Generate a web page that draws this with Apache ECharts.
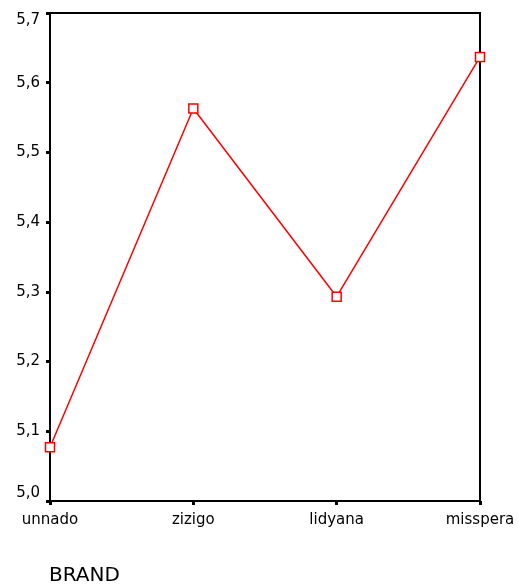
<!DOCTYPE html>
<html>
<head>
<meta charset="utf-8">
<script src="https://cdn.jsdelivr.net/npm/echarts@6/dist/echarts.min.js"></script>
<style>html,body{margin:0;padding:0;background:#fff;}#c{width:518px;height:586px;}</style>
</head>
<body>
<div id="c"></div>
<script>
const categories = ['unnado', 'zizigo', 'lidyana', 'misspera'];
const meanValues = [5.077, 5.563, 5.293, 5.637];
const axisTitle = 'BRAND';

const chart = echarts.init(document.getElementById('c'), null, {renderer: 'canvas'});
chart.setOption({
  animation: false,
  backgroundColor: '#fff',
  title: {
    text: axisTitle, left: 44, top: 561,
    textStyle: {fontFamily: 'DejaVu Sans', fontSize: 20, fontWeight: 'normal', color: '#000'}
  },
  grid: {left: 50, right: 38, top: 13, bottom: 85, show: true, borderColor: '#000', borderWidth: 2, backgroundColor: 'transparent'},
  xAxis: {
    type: 'category', data: categories, boundaryGap: false,
    axisLine: {lineStyle: {color: '#000', width: 2}},
    axisTick: {show: true, alignWithLabel: true, length: 4, lineStyle: {color: '#000', width: 3}},
    axisLabel: {margin: 12, color: '#000', fontFamily: 'DejaVu Sans', fontSize: 15},
    splitLine: {show: false}
  },
  yAxis: {
    type: 'value', min: 5.0, max: 5.7, interval: 0.1,
    axisLine: {show: true, lineStyle: {color: '#000', width: 2}},
    axisTick: {show: true, length: 4, lineStyle: {color: '#000', width: 3}},
    axisLabel: {margin: 10, color: '#000', fontFamily: 'DejaVu Sans', fontSize: 15,
      verticalAlignMinLabel: 'bottom', verticalAlignMaxLabel: 'top',
      formatter: v => v.toFixed(1).replace('.', ',')},
    splitLine: {show: false}
  },
  series: [{
    type: 'line', data: meanValues,
    symbol: 'rect', symbolSize: 9,
    itemStyle: {color: '#fff', borderColor: '#ff0000', borderWidth: 1.5},
    lineStyle: {color: '#ff0000', width: 1.5},
    z: 3
  }]
});
</script>
</body>
</html>
